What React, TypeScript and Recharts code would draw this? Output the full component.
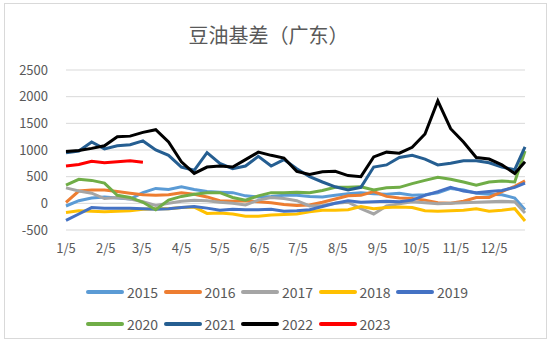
import { CartesianGrid, Line, LineChart, XAxis, YAxis } from "recharts"

// day offsets from 1/5
const days = [0, 10, 20, 30, 40, 50, 60, 70, 80, 90, 100, 110, 120, 130, 140, 150, 160, 170, 180, 190, 200, 210, 220, 230, 240, 250, 260, 270, 280, 290, 300, 310, 320, 330, 340, 350, 358]

const tickDays = [0, 31, 59, 90, 120, 151, 181, 212, 243, 273, 304, 334]
const tickLabels = ["1/5", "2/5", "3/5", "4/5", "5/5", "6/5", "7/5", "8/5", "9/5", "10/5", "11/5", "12/5"]
const yTicks = [-500, 0, 500, 1000, 1500, 2000, 2500]

const years = ["2015", "2016", "2017", "2018", "2019", "2020", "2021", "2022", "2023"]
const colors = ["#5B9BD5", "#ED7D31", "#A5A5A5", "#FFC000", "#4472C4", "#70AD47", "#255E91", "#000000", "#FF0000"]

const s2015 = [-50, 50, 100, 120, 100, 80, 200, 280, 260, 310, 260, 220, 210, 200, 140, 120, 130, 150, 150, 130, 120, 150, 180, 200, 180, 170, 190, 150, 160, 200, 280, 250, 190, 170, 160, 100, -120]
const s2016 = [20, 230, 250, 250, 220, 190, 160, 150, 160, 200, 170, 120, 50, 40, 50, 30, 10, -20, -40, -30, 20, 80, 140, 150, 220, 130, 100, 90, 60, 10, 0, 40, 110, 110, 220, 320, 420]
const s2017 = [290, 230, 190, 90, 110, 80, 30, -40, 0, 40, 60, 50, 20, 0, -30, 60, 110, 90, 50, -50, -40, 0, 20, -100, -200, -50, -10, 30, 10, -10, 0, 10, 20, 30, 40, 30, -180]
const s2018 = [-170, -140, -150, -160, -150, -140, -110, -100, -100, -80, -70, -190, -180, -200, -240, -240, -220, -210, -200, -160, -130, -130, -120, -60, -100, -80, -70, -80, -140, -150, -140, -130, -100, -150, -130, -100, -330]
const s2019 = [-320, -200, -80, -90, -90, -90, -100, -110, -100, -80, -60, -90, -130, -110, -120, -120, -110, -150, -140, -120, -60, 0, 50, 20, 30, 40, 30, 60, 150, 220, 300, 230, 200, 220, 240, 300, 380]
const s2020 = [340, 450, 430, 380, 150, 110, 20, -120, 60, 130, 170, 200, 200, 110, 60, 140, 200, 200, 210, 200, 240, 300, 300, 310, 250, 290, 300, 370, 430, 490, 450, 400, 340, 400, 420, 400, 980]
const s2021 = [950, 980, 1150, 1020, 1080, 1100, 1170, 1000, 900, 680, 620, 950, 750, 650, 700, 880, 700, 820, 650, 500, 400, 310, 250, 300, 680, 720, 860, 900, 830, 720, 750, 800, 800, 760, 680, 630, 1060]
const s2022 = [970, 990, 1030, 1080, 1250, 1260, 1330, 1380, 1150, 780, 560, 680, 700, 680, 820, 960, 900, 850, 600, 540, 590, 600, 520, 500, 870, 960, 940, 1050, 1300, 1920, 1400, 1150, 860, 830, 720, 560, 780]
const s2023 = [700, 730, 790, 760, 780, 800, 770]

const series = [s2015, s2016, s2017, s2018, s2019, s2020, s2021, s2022, s2023]

const data = days.map((d, i) => {
  const row: Record<string, number | null> = { day: d }
  years.forEach((y, k) => {
    const v = series[k][i]
    row[y] = v === undefined ? null : v
  })
  return row
})

const font = '"Noto Sans CJK SC", "Noto Sans", sans-serif'

function LegendBox() {
  const rows = [years.slice(0, 5), years.slice(5)]
  return (
    <div style={{ position: "absolute", left: 86, top: 276, fontFamily: font }}>
      {rows.map((r, ri) => (
        <div key={ri} style={{ display: "flex", height: 32, alignItems: "center" }}>
          {r.map((y) => {
            const c = colors[years.indexOf(y)]
            return (
              <div key={y} style={{ display: "flex", alignItems: "center", width: 77.5 }}>
                <div style={{ width: 38, height: 4, borderRadius: 2, background: c, marginRight: 3 }} />
                <span style={{ fontSize: 14, color: "#595959" }}>{y}</span>
              </div>
            )
          })}
        </div>
      ))}
    </div>
  )
}

export default function App() {
  return (
    <div style={{ position: "absolute", left: 0, top: 0, width: 550, height: 342, background: "#fff", fontFamily: font }}>
      <div style={{ position: "absolute", left: 4, top: 3, width: 541, height: 334, border: "1px solid #D9D9D9" }} />
      <div style={{ position: "absolute", left: 0, top: 20, width: 537, textAlign: "center", fontSize: 20, color: "#595959" }}>
        豆油基差（广东）
      </div>
      <div style={{ position: "absolute", left: 0, top: 0 }}>
        <LineChart width={550} height={342} data={data} margin={{ top: 70, right: 25, bottom: 82, left: 0 }}>
          <CartesianGrid vertical={false} stroke="#D9D9D9" />
          <XAxis
            dataKey="day"
            type="number"
            domain={[0, 358]}
            ticks={tickDays}
            tickFormatter={(d) => tickLabels[tickDays.indexOf(d)]}
            axisLine={false}
            tickLine={false}
            height={30}
            tick={{ fill: "#595959", fontSize: 13 }}
            tickMargin={8}
            interval={0}
          />
          <YAxis
            domain={[-500, 2500]}
            ticks={yTicks}
            axisLine={false}
            tickLine={false}
            width={66}
            tick={{ fill: "#595959", fontSize: 13 }}
            tickMargin={12}
          />
          {years.map((y, k) => (
            <Line
              key={y}
              dataKey={y}
              stroke={colors[k]}
              strokeWidth={3}
              dot={false}
              type="linear"
              isAnimationActive={false}
            />
          ))}
        </LineChart>
      </div>
      <LegendBox />
    </div>
  )
}
